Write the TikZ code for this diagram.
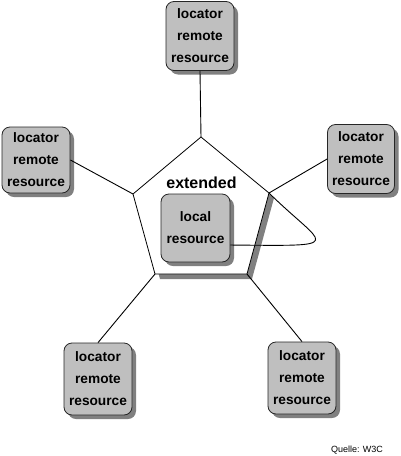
\documentclass[tikz,border=0pt]{standalone}
\usepackage{fontspec}
\setmainfont{Liberation Sans}
\usetikzlibrary{shadows}

\begin{document}
\begin{tikzpicture}[x=1pt,y=-1pt]
		\tikzstyle{resBox}=[draw=black!85, fill=gray!50, rounded corners=8pt, line width=0.8pt,
			minimum width=68pt, minimum height=69pt, inner sep=0pt, align=center,
			font=\fontsize{13.7}{22}\selectfont\bfseries,
			drop shadow={shadow xshift=4pt, shadow yshift=-4pt, fill=gray, opacity=1}]
		\tikzstyle{link}=[line width=0.9pt]

		\useasboundingbox (0,0) rectangle (400,456);
		% extended pentagon
		\coordinate (pTop) at (201,137);
		\coordinate (pLeft) at (133,194);
		\coordinate (pRight) at (269,193);
		\coordinate (pBotLeft) at (155,274);
		\coordinate (pBotRight) at (247,274);
		\fill [gray, transform canvas={xshift=5pt, yshift=-5pt}] (pTop) -- (pRight) -- (pBotRight) -- (pBotLeft) -- (pLeft) -- cycle;
		\draw [fill=white, line width=0.8pt] (pTop) -- (pRight) -- (pBotRight) -- (pBotLeft) -- (pLeft) -- cycle;
		\node [font=\fontsize{16}{18}\selectfont\bfseries] (ext) at (201.5,183) {extended};
		\node [resBox, minimum width=69pt, minimum height=68pt] (local) at (195.5,228) {local\\resource};
		% remote resources
		\node [resBox] (rTop) at (200,36) {locator\\remote\\resource};
		\node [resBox, minimum height=66pt] (rLeft) at (36,160) {locator\\remote\\resource};
		\node [resBox, minimum width=67pt] (rRight) at (361,159) {locator\\remote\\resource};
		\node [resBox, minimum height=72pt] (rBotLeft) at (98,379) {locator\\remote\\resource};
		\node [resBox, minimum height=72pt] (rBotRight) at (302,378) {locator\\remote\\resource};
		% links
		\draw [link] (rTop.south) -- (pTop);
		\draw [link] (rLeft.east) -- (pLeft);
		\draw [link] (rRight.west) -- (pRight);
		\draw [link] (rBotLeft.north) -- (pBotLeft);
		\draw [link] (rBotRight.north) -- (pBotRight);
		\draw [link] (local.-26) .. controls (350,246) and (325,248) .. (pRight);

		\node [font=\fontsize{9}{10}\selectfont] (quelle) at (357,450) {Quelle: W3C};
\end{tikzpicture}
\end{document}
